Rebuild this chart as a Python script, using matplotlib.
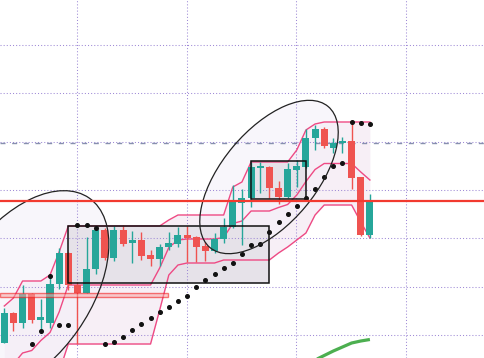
import numpy as np
import matplotlib
matplotlib.use("Agg")
import matplotlib.pyplot as plt
from matplotlib.patches import Rectangle, Ellipse
from matplotlib.transforms import ScaledTranslation

nan = np.nan

# ---- OHLC candles (arbitrary price units) ----
opens = [157, 187, 177, 206, 180, 177, 216, 247, 215, 207, 231, 270, 242, 270, 257, 260, 245, 241, 253, 256,
         265, 263, 254, 249, 261, 273, 297, 302, 332, 333, 312, 303, 330, 333, 362, 371, 352, 357, 359, 323, 265]
highs = [192, 188, 215, 207, 201, 223, 252, 248, 218, 263, 272, 272, 274, 275, 269, 268, 250, 256, 268, 273,
         274, 264, 258, 267, 282, 315, 311, 338, 338, 334, 319, 337, 340, 371, 375, 373, 362, 363, 377, 323, 306]
lows = [157, 169, 172, 177, 167, 172, 211, 210, 156, 207, 226, 240, 239, 254, 237, 240, 234, 234, 250, 253,
        238, 238, 239, 247, 257, 272, 255, 293, 307, 302, 296, 302, 313, 332, 350, 352, 347, 347, 311, 264, 262]
closes = [187, 177, 206, 180, 183, 216, 247, 215, 207, 231, 270, 242, 270, 256, 260, 244, 241, 253, 257, 265,
          262, 253, 249, 261, 273, 298, 302, 333, 334, 312, 303, 331, 334, 362, 371, 354, 357, 359, 322, 265, 298]

# ---- channel (upper / lower) ----
upper = [194, 202, 219, 219, 219, 225, 248, 274, 274, 274, 274, 274, 274, 274, 274, 274, 274, 274, 280, 285,
         285, 285, 285, 285, 285, 313, 318, 338, 338, 338, 338, 338, 350, 370, 376, 378, 378, 378, 378, 378, 378]
lower = [70, 70, 75, 80, 100, 110, 128, 156, 156, 156, 156, 156, 156, 156, 156, 156, 156, 190, 225, 235,
         237, 237, 237, 237, 240, 240, 240, 240, 240, 240, 247, 253, 260, 267, 285, 295, 295, 295, 295, 278, 262]

# ---- parabolic SAR dots ----
sar = [nan, nan, nan, 156, 169, 224, 175, 175, 275, 275, 272, 156, 158, 163, 170, 176, 182, 188, 193, 199,
       204, 213, 220, 226, 232, 237, 246, 255, 256, 268, 278, 286, 294, 302, 311, 323, 334, 337, 378, 377, 376]

# ---- green indicator line ----
green = [nan] * 34 + [140, 144.5, 149, 153, 157, 159, 160.5]

# ---- horizontal levels ----
red_level = 299
dash_level = 357.5

# ---- drawn zones ----
zone1 = dict(x0=6.97, x1=28.94, y0=217, y1=274)
zone2 = dict(x0=26.94, x1=33.06, y0=301, y1=339)
pink_zone = dict(x0=-0.5, x1=17.9, y0=202.7, y1=207.5)

UP = "#26a69a"
DN = "#ef5350"
BAND = "#ee4a84"
GRID = "#9f8ad6"

fig = plt.figure(figsize=(4.85, 3.58), dpi=100)
ax = fig.add_axes([0, 0, 1, 1])
ax.set_xlim(-0.4705, 52.593)
ax.set_ylim(142, 500)
ax.set_xticks([])
ax.set_yticks([])
for s in ax.spines.values():
    s.set_visible(False)

x = np.arange(len(opens))
up_a = np.array(upper, float)
lo_a = np.array(lower, float)
mid = (up_a + lo_a) / 2

# channel fill
ax.fill_between(x, lo_a, up_a, color="#f7eff6", zorder=0.5, lw=0)

# grid
for gx in [8, 20, 32, 44]:
    ax.axvline(gx - 0.05, color=GRID, lw=0.75, ls=(0, (1, 2)), zorder=1.6)
for gy in [165.2, 213.5, 261.8, 310.0, 358.4, 406.7, 455.0]:
    ax.axhline(gy, color=GRID, lw=0.75, ls=(0, (1, 2)), zorder=1.6)

# zones
ax.add_patch(Rectangle((zone1["x0"], zone1["y0"]), zone1["x1"] - zone1["x0"], zone1["y1"] - zone1["y0"],
                       facecolor="#e6e2e9", edgecolor="none", zorder=1.5))
ax.add_patch(Rectangle((zone2["x0"], zone2["y0"]), zone2["x1"] - zone2["x0"], zone2["y1"] - zone2["y0"],
                       facecolor="#e6e2e9", edgecolor="none", zorder=1.5))


def ellipse(cx_px, cy_px, w, h, ang, **kw):
    cx = (cx_px - 4.3) / 9.14
    cy = 500 - cy_px
    tr = ScaledTranslation(cx, cy, ax.transData)
    return Ellipse((0, 0), w, h, angle=ang, transform=tr, **kw)


for args in [(23.3, 292.3, 230, 133, 55), (269, 177, 184, 94, 50)]:
    ax.add_patch(ellipse(*args, facecolor="#f4f0f9", edgecolor="none", alpha=0.6, zorder=1.4))
    ax.add_patch(ellipse(*args, facecolor="none", edgecolor="#222222", lw=0.9, zorder=5))

# channel lines
ax.plot(x, up_a, color=BAND, lw=1.0, zorder=2)
ax.plot(x, lo_a, color=BAND, lw=1.0, zorder=2)
ax.plot(x, mid, color=BAND, lw=1.0, zorder=2)

# candles
for i in range(len(opens)):
    o, h, l, c = opens[i], highs[i], lows[i], closes[i]
    col = UP if c >= o else DN
    ax.vlines(i, l, h, color=col, lw=1.0, zorder=3)
    ax.bar(i, max(abs(c - o), 1.2), bottom=min(o, c), width=0.77, color=col, lw=0, zorder=3.1)

# SAR dots
ax.plot(x, sar, ls="none", marker="o", ms=2.6, color="#111111", zorder=4)

# green line
ax.plot(x, green, color="#4caf50", lw=2.3, zorder=4, solid_capstyle="butt")

# zone edges
ax.add_patch(Rectangle((zone1["x0"], zone1["y0"]), zone1["x1"] - zone1["x0"], zone1["y1"] - zone1["y0"],
                       facecolor="none", edgecolor="#111111", lw=1.1, zorder=4.5))
ax.add_patch(Rectangle((zone2["x0"], zone2["y0"]), zone2["x1"] - zone2["x0"], zone2["y1"] - zone2["y0"],
                       facecolor="none", edgecolor="#111111", lw=1.1, zorder=4.5))
ax.add_patch(Rectangle((pink_zone["x0"], pink_zone["y0"]), pink_zone["x1"] - pink_zone["x0"],
                       pink_zone["y1"] - pink_zone["y0"], facecolor="#f7a8a8", alpha=0.55,
                       edgecolor="#f01010", lw=1.0, zorder=4.6))

# levels
ax.axhline(red_level, color="#f23a2f", lw=1.6, zorder=6)
ax.axhline(dash_level, color="#8790ae", lw=1.0, ls=(0, (3.6, 4.8)), zorder=2.2)

fig.savefig("out.png", dpi=100)
